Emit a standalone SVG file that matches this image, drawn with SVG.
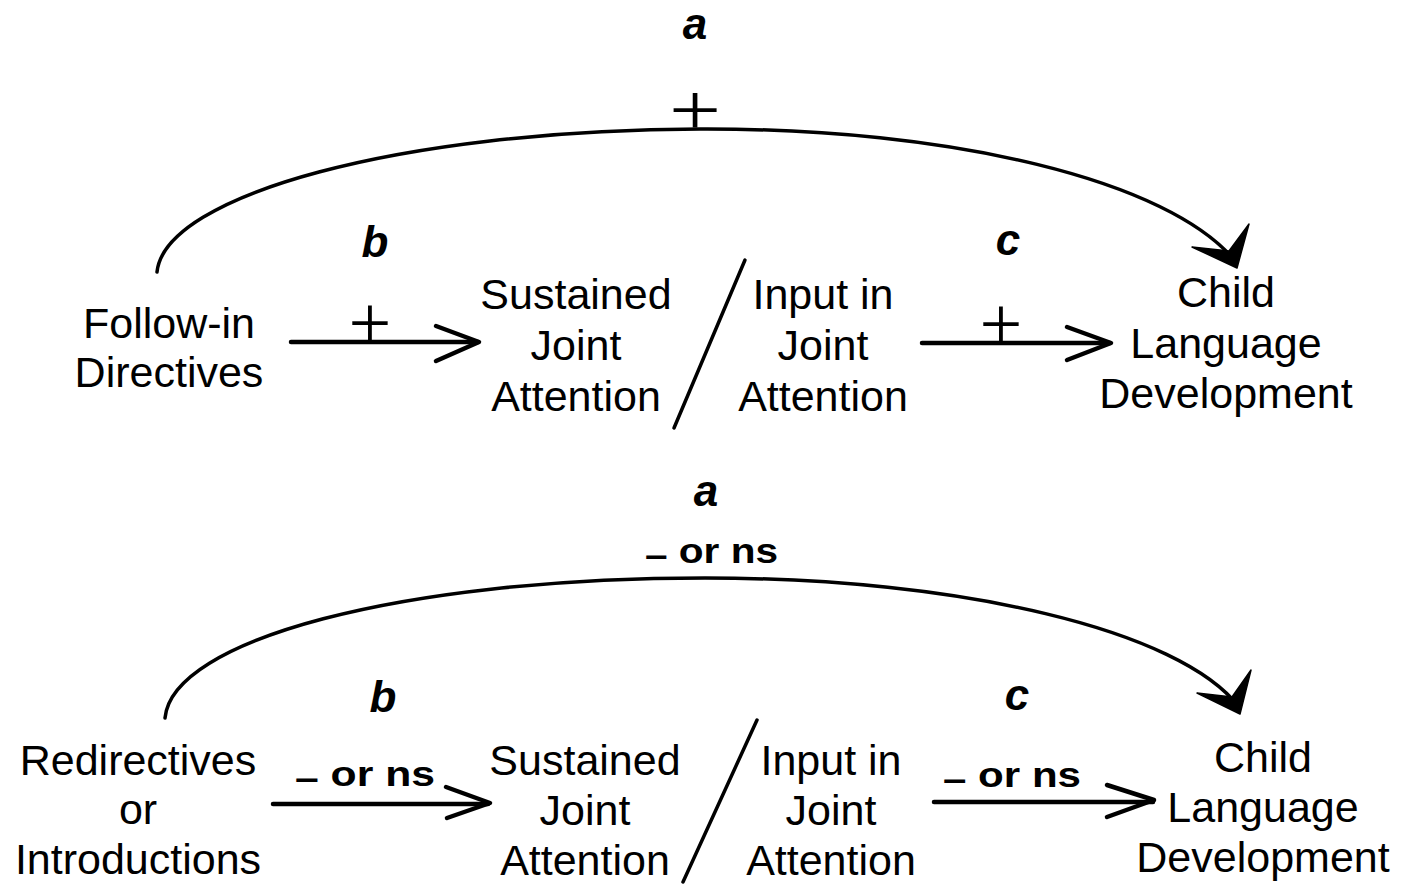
<svg xmlns="http://www.w3.org/2000/svg" width="1411" height="884" viewBox="0 0 1411 884">
<style>
.node{font-family:"Liberation Sans",Arial,sans-serif;font-size:43px;fill:#000;text-anchor:middle}
.lab{font-family:"Liberation Sans",Arial,sans-serif;font-size:44px;font-weight:bold;font-style:italic;fill:#000;text-anchor:middle}
.sig{font-family:"Liberation Sans",Arial,sans-serif;font-size:35px;font-weight:bold;fill:#000}
.plus{font-family:"Liberation Serif","Times New Roman",serif;fill:#000;text-anchor:middle}
.ln{fill:none;stroke:#000;stroke-width:3.5;stroke-linecap:round;stroke-linejoin:round}
.ar{fill:none;stroke:#000;stroke-width:4.5;stroke-linecap:round;stroke-linejoin:round}
.hd{fill:#000;stroke:#000;stroke-width:1.5;stroke-linejoin:round}
</style>
<rect width="1411" height="884" fill="#fff"/>

<g id="connectors">
  <!-- top panel -->
  <path class="ln" d="M157,272 C165,195 400,130 700,129 C950,128 1170,180 1236,262"/>
  <polygon class="hd" points="1237,268 1192,247 1229,251 1249,224"/>
  <path class="ar" d="M291,342 H478"/>
  <polyline class="ar" points="436,326 479,342 436,361"/>
  <path class="ar" d="M922,343 H1110"/>
  <polyline class="ar" points="1067,327 1111,343 1067,360"/>
  <path class="ln" d="M745,260 L674,428"/>
  <!-- bottom panel -->
  <path class="ln" d="M165,718 C172,640 400,578 705,578 C960,578 1180,630 1239,707"/>
  <polygon class="hd" points="1240,714 1197,693 1232,697 1251,670"/>
  <path class="ar" d="M273,804 H488"/>
  <polyline class="ar" points="446,787 490,803 447,818"/>
  <path class="ar" d="M934,802 H1153"/>
  <polyline class="ar" points="1107,785 1154,800 1107,817"/>
  <path class="ln" d="M757,720 L683,882"/>
</g>

<g id="labels-top">
  <text class="lab" x="695" y="39">a</text>
  <text class="lab" x="375" y="257">b</text>
  <text class="lab" x="1008" y="255">c</text>
  <text class="plus" font-size="88" transform="translate(695,135) scale(1.05,0.85)">+</text>
  <text class="plus" font-size="76" x="370" y="348">+</text>
  <text class="plus" font-size="76" x="1001" y="349">+</text>
</g>

<g id="labels-bottom">
  <text class="lab" x="706" y="506">a</text>
  <text class="lab" x="383" y="712">b</text>
  <text class="lab" x="1017" y="710">c</text>
  <text class="sig" x="645" y="563" textLength="133" lengthAdjust="spacingAndGlyphs"><tspan dy="4">–</tspan><tspan dy="-4"> or ns</tspan></text>
  <text class="sig" x="295" y="786" textLength="140" lengthAdjust="spacingAndGlyphs"><tspan dy="4">–</tspan><tspan dy="-4"> or ns</tspan></text>
  <text class="sig" x="943" y="787" textLength="138" lengthAdjust="spacingAndGlyphs"><tspan dy="4">–</tspan><tspan dy="-4"> or ns</tspan></text>
</g>

<g id="node-follow-in">
  <text class="node" x="169" y="338">Follow-in</text>
  <text class="node" x="169" y="387">Directives</text>
</g>
<g id="node-sustained-top">
  <text class="node" x="576" y="309">Sustained</text>
  <text class="node" x="576" y="360">Joint</text>
  <text class="node" x="576" y="411">Attention</text>
</g>
<g id="node-input-top">
  <text class="node" x="823" y="309">Input in</text>
  <text class="node" x="823" y="360">Joint</text>
  <text class="node" x="823" y="411">Attention</text>
</g>
<g id="node-child-top">
  <text class="node" x="1226" y="307">Child</text>
  <text class="node" x="1226" y="358">Language</text>
  <text class="node" x="1226" y="408">Development</text>
</g>

<g id="node-redirectives">
  <text class="node" x="138" y="775">Redirectives</text>
  <text class="node" x="138" y="824">or</text>
  <text class="node" x="138" y="874">Introductions</text>
</g>
<g id="node-sustained-bottom">
  <text class="node" x="585" y="775">Sustained</text>
  <text class="node" x="585" y="825">Joint</text>
  <text class="node" x="585" y="875">Attention</text>
</g>
<g id="node-input-bottom">
  <text class="node" x="831" y="775">Input in</text>
  <text class="node" x="831" y="825">Joint</text>
  <text class="node" x="831" y="875">Attention</text>
</g>
<g id="node-child-bottom">
  <text class="node" x="1263" y="772">Child</text>
  <text class="node" x="1263" y="822">Language</text>
  <text class="node" x="1263" y="872">Development</text>
</g>
</svg>
